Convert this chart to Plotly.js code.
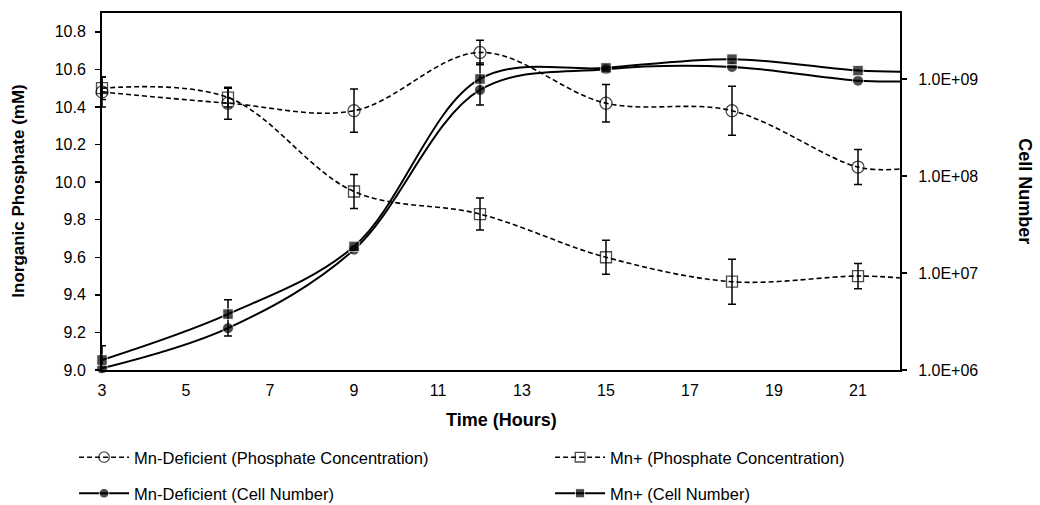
<!DOCTYPE html>
<html><head><meta charset="utf-8">
<script src="https://cdn.plot.ly/plotly-3.0.1.min.js"></script>
<style>html,body{margin:0;padding:0;background:#fff}#chart{width:1040px;height:505px}</style>
</head><body><div id="chart"></div><script>
// Time points (last point = value where curves meet the right edge of the plot)
const hours = [3, 6, 9, 12, 15, 18, 21, 22];
const xTickVals = [3, 5, 7, 9, 11, 13, 15, 17, 19, 21];
const cellTickVals = [1e6, 1e7, 1e8, 1e9];
const cellTickText = ['1.0E+06', '1.0E+07', '1.0E+08', '1.0E+09'];

const phosDeficient = [10.48, 10.42, 10.38, 10.69, 10.42, 10.38, 10.08, 10.07];
const phosDeficientErr = [0.08, 0.085, 0.115, 0.065, 0.10, 0.13, 0.093, NaN];
const phosMnPlus = [10.50, 10.45, 9.95, 9.83, 9.60, 9.47, 9.50, 9.49];
const phosMnPlusErr = [0.06, 0.05, 0.09, 0.085, 0.09, 0.12, 0.067, NaN];
const cellsDeficient = [1.04e6, 2.7e6, 1.74e7, 7.7e8, 1.26e9, 1.33e9, 9.6e8, 9.44e8];
const cellsDeficientErr = [NaN, NaN, NaN, NaN, NaN, NaN, NaN, NaN];
const cellsMnPlus = [1.27e6, 3.77e6, 1.88e7, 1.0e9, 1.3e9, 1.6e9, 1.22e9, 1.19e9];
const cellsMnPlusErr = [0.51e6, 1.53e6, NaN, 0.46e9, NaN, NaN, NaN, NaN];

const names = ['Mn-Deficient (Phosphate Concentration)', 'Mn+ (Phosphate Concentration)',
               'Mn-Deficient (Cell Number)', 'Mn+ (Cell Number)'];

function sizes(s){ return hours.map((h,i)=> i === hours.length-1 ? 0 : s); }
function errBar(arr){ return {type:'data', array:arr, symmetric:true, visible:true, color:'#000', thickness:1.5, width:4}; }

const traces = [
  {x: hours, y: phosDeficient, name: names[0], mode:'lines+markers', legend:'legend',
   line:{shape:'spline', color:'#000', width:1.6, dash:'5px,3px'},
   marker:{symbol:'circle-open', size:sizes(12), color:'#000', line:{width:1.3, color:'#000'}},
   error_y: errBar(phosDeficientErr), cliponaxis:false},
  {x: hours, y: phosMnPlus, name: names[1], mode:'lines+markers', legend:'legend2',
   line:{shape:'spline', color:'#000', width:1.6, dash:'5px,3px'},
   marker:{symbol:'square-open', size:sizes(11), color:'#000', line:{width:1.3, color:'#000'}},
   error_y: errBar(phosMnPlusErr), cliponaxis:false},
  {x: hours, y: cellsDeficient, name: names[2], mode:'lines+markers', yaxis:'y2', legend:'legend3',
   line:{shape:'spline', color:'#000', width:2},
   marker:{symbol:'circle', size:sizes(11), color:'#000'},
   error_y: errBar(cellsDeficientErr), cliponaxis:false},
  {x: hours, y: cellsMnPlus, name: names[3], mode:'lines+markers', yaxis:'y2', legend:'legend4',
   line:{shape:'spline', color:'#000', width:2},
   marker:{symbol:'square', size:sizes(10.5), color:'#000'},
   error_y: errBar(cellsMnPlusErr), cliponaxis:false}
];

const font = {family:'Liberation Sans, Arial, sans-serif', size:16, color:'#000'};
function legendAt(x, y){
  return {orientation:'h', xanchor:'left', yanchor:'top', x:x, y:y,
    itemwidth:50, font:{family:font.family, size:16.5, color:'#000'},
    bgcolor:'rgba(0,0,0,0)', borderwidth:0};
}

const layout = {
  width:1040, height:505,
  margin:{l:102, r:140, t:13, b:135, autoexpand:false},
  paper_bgcolor:'#fff', plot_bgcolor:'#fff',
  font: font,
  showlegend:true,
  xaxis:{range:[3,22], tickvals:xTickVals, showgrid:false, zeroline:false, automargin:false,
    showline:true, linecolor:'#000', linewidth:2, mirror:true, ticks:'',
    ticklabelstandoff:5, tickfont:{size:16}},
  yaxis:{range:[9.0,10.9], dtick:0.2, tick0:9.0, tickformat:'.1f', showgrid:false, zeroline:false,
    automargin:false, showline:true, linecolor:'#000', linewidth:2, ticks:'outside', ticklen:5, tickwidth:1.5,
    tickcolor:'#000', ticklabelstandoff:6, tickfont:{size:16}},
  yaxis2:{type:'log', range:[6,9.68], overlaying:'y', side:'right', tickvals:cellTickVals,
    ticktext:cellTickText, showgrid:false, zeroline:false, automargin:false, showline:true, linecolor:'#000',
    linewidth:2, ticks:'outside', ticklen:5, tickwidth:1.5, tickcolor:'#000',
    ticklabelstandoff:8, tickfont:{size:16}},
  legend: legendAt(-0.035, -0.196),
  legend2: legendAt(0.5615, -0.196),
  legend3: legendAt(-0.035, -0.297),
  legend4: legendAt(0.5615, -0.297),
  annotations:[
    {text:'<b>Inorganic Phosphate (mM)</b>', xref:'paper', yref:'paper', x:-0.105, y:0.5,
     xanchor:'center', yanchor:'middle', textangle:-90, showarrow:false, font:{size:17}},
    {text:'<b>Cell Number</b>', xref:'paper', yref:'paper', x:1.157, y:0.5,
     xanchor:'center', yanchor:'middle', textangle:90, showarrow:false, font:{size:18}},
    {text:'<b>Time (Hours)</b>', xref:'paper', yref:'paper', x:0.5, y:-0.14,
     xanchor:'center', yanchor:'middle', showarrow:false, font:{size:18}}
  ]
};

Plotly.newPlot('chart', traces, layout, {displayModeBar:false, staticPlot:true});
</script></body></html>
